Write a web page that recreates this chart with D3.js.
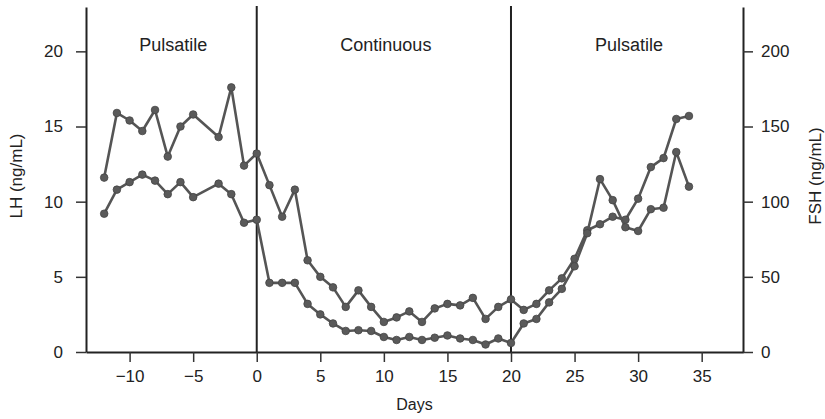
<!DOCTYPE html>
<html>
<head>
<meta charset="utf-8">
<script src="https://cdn.jsdelivr.net/npm/d3@7"></script>
<style>
  body { margin: 0; background: #fff; }
  svg text { font-family: "Liberation Sans", Arial, sans-serif; fill: #222; }
</style>
</head>
<body>
<div id="chart"></div>
<script>
// days of sampling (no sample on day -4)
var days = [-12, -11, -10, -9, -8, -7, -6, -5, -3, -2, -1, 0,
    1, 2, 3, 4, 5, 6, 7, 8, 9, 10, 11, 12, 13, 14, 15, 16, 17, 18, 19, 20,
    21, 22, 23, 24, 25, 26, 27, 28, 29, 30, 31, 32, 33, 34];

// LH (ng/mL), left axis
var lhValues = [9.2, 10.8, 11.3, 11.8, 11.4, 10.5, 11.3, 10.3, 11.2, 10.5, 8.6, 8.8,
    4.6, 4.6, 4.6, 3.2, 2.5, 1.9, 1.4, 1.45, 1.4, 1.0, 0.8, 1.0, 0.8, 0.95, 1.1, 0.9, 0.8, 0.5, 0.9, 0.6,
    1.9, 2.2, 3.3, 4.2, 5.7, 7.9, 11.5, 10.1, 8.3, 8.05, 9.5, 9.6, 13.3, 11.0];

// FSH (ng/mL), right axis
var fshValues = [116, 159, 154, 147, 161, 130, 150, 158, 143, 176, 124, 132,
    111, 90, 108, 61, 50, 43, 30, 41, 30, 20, 23, 27, 20, 29, 32, 31, 36, 22, 30, 35,
    28, 32, 41, 49, 62, 81, 85, 90, 88, 102, 123, 129, 155, 157];

var xTicks = [-10, -5, 0, 5, 10, 15, 20, 25, 30, 35];
var lhTicks = [0, 5, 10, 15, 20];
var fshTicks = [0, 50, 100, 150, 200];

// treatment phases
var phaseEdges = [-13.43, 0, 20, 38.25];
var phaseLabels = ["Pulsatile", "Continuous", "Pulsatile"];

var W = 825, H = 419;
var plotLeft = 86, plotRight = 743, plotTop = 7, plotBottom = 352;

var svg = d3.select("#chart")
    .append("svg")
    .attr("width", W)
    .attr("height", H);

var x = d3.scaleLinear().domain([-13.43, 38.25]).range([plotLeft, plotRight]);
var yLH = d3.scaleLinear().domain([0, 22.95]).range([plotBottom, plotTop]);
var yFSH = d3.scaleLinear().domain([0, 229.5]).range([plotBottom, plotTop]);

function styleAxis(g) {
    g.selectAll("path.domain").attr("stroke", "#222").attr("stroke-width", 2);
    g.selectAll(".tick line").attr("stroke", "#333").attr("stroke-width", 1.5);
    g.selectAll(".tick text")
        .style("font-family", '"Liberation Sans", Arial, sans-serif')
        .style("font-size", "17px")
        .attr("fill", "#222");
}

// x axis
svg.append("g")
    .attr("transform", "translate(0," + plotBottom + ")")
    .call(d3.axisBottom(x).tickValues(xTicks).tickSize(10).tickSizeOuter(0).tickPadding(8))
    .call(styleAxis);

// left axis (LH)
svg.append("g")
    .attr("transform", "translate(" + plotLeft + ",0)")
    .call(d3.axisLeft(yLH).tickValues(lhTicks).tickSize(10).tickSizeOuter(0).tickPadding(13))
    .call(styleAxis);

// right axis (FSH)
svg.append("g")
    .attr("transform", "translate(" + plotRight + ",0)")
    .call(d3.axisRight(yFSH).tickValues(fshTicks).tickSize(10).tickSizeOuter(0).tickPadding(8))
    .call(styleAxis);

// phase separators
svg.selectAll("line.phase")
    .data(phaseEdges.slice(1, 3))
    .enter()
    .append("line")
    .attr("class", "phase")
    .attr("x1", function (d) { return x(d); })
    .attr("x2", function (d) { return x(d); })
    .attr("y1", plotTop - 1)
    .attr("y2", plotBottom)
    .attr("stroke", "#222")
    .attr("stroke-width", 2);

// phase labels
svg.selectAll("text.phaseLabel")
    .data(phaseLabels)
    .enter()
    .append("text")
    .attr("class", "phaseLabel")
    .attr("x", function (d, i) { return (x(phaseEdges[i]) + x(phaseEdges[i + 1])) / 2 + 2; })
    .attr("y", 51)
    .attr("text-anchor", "middle")
    .style("font-size", "18px")
    .text(function (d) { return d; });

// axis titles
svg.append("text")
    .attr("x", (plotLeft + plotRight) / 2)
    .attr("y", 410)
    .attr("text-anchor", "middle")
    .style("font-size", "16px")
    .text("Days");

svg.append("text")
    .attr("transform", "translate(22,176) rotate(-90)")
    .attr("text-anchor", "middle")
    .style("font-size", "17px")
    .text("LH (ng/mL)");

svg.append("text")
    .attr("transform", "translate(821,176) rotate(-90)")
    .attr("text-anchor", "middle")
    .style("font-size", "17px")
    .text("FSH (ng/mL)");

// series
var series = [
    { values: fshValues, y: yFSH },
    { values: lhValues, y: yLH }
];

series.forEach(function (s) {
    var pts = days.map(function (d, i) { return [d, s.values[i]]; });
    var line = d3.line()
        .x(function (p) { return x(p[0]); })
        .y(function (p) { return s.y(p[1]); });

    svg.append("path")
        .datum(pts)
        .attr("d", line)
        .attr("fill", "none")
        .attr("stroke", "#555")
        .attr("stroke-width", 2.6)
        .attr("stroke-linejoin", "round");

    svg.append("g")
        .selectAll("circle")
        .data(pts)
        .enter()
        .append("circle")
        .attr("cx", function (p) { return x(p[0]); })
        .attr("cy", function (p) { return s.y(p[1]); })
        .attr("r", 3.8)
        .attr("fill", "#5a5a5a")
        .attr("stroke", "#444")
        .attr("stroke-width", 0.8);
});
</script>
</body>
</html>
